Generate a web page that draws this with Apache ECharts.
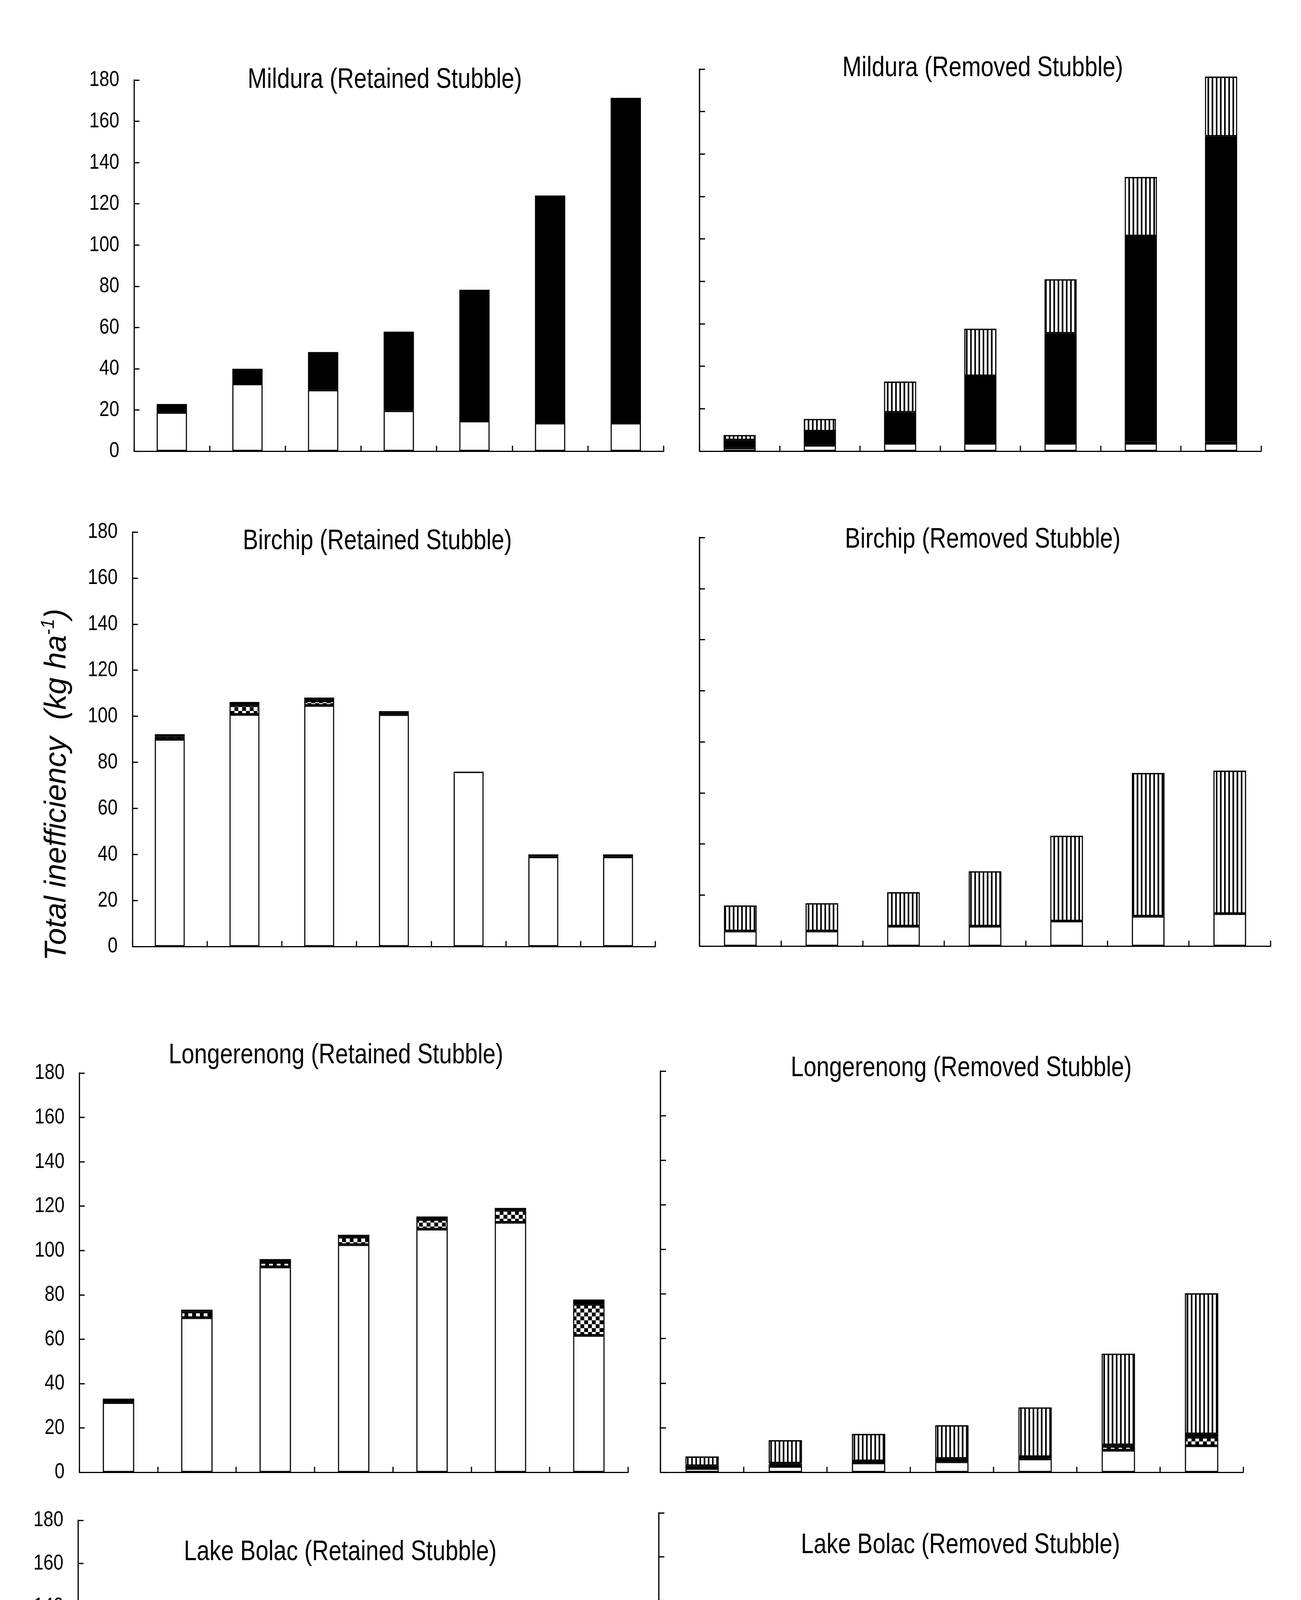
<!DOCTYPE html>
<html><head><meta charset="utf-8">
<script src="https://cdn.jsdelivr.net/npm/echarts@6/dist/echarts.min.js"></script>
<style>html,body{margin:0;padding:0;background:#fff;overflow:hidden;width:3331px;height:5236px}
#c{width:4062px;height:5236px;transform-origin:0 0}</style>
</head><body><div id="c"></div><script>
// ---------------- data ----------------
const categories = ['0', '25', '50', '75', '100', '150', '200'];
const componentNames = ['Immobilization', 'Denitrification', 'Leaching', 'N in Stubbles'];

const mildRetImm = [18.8, 32.6, 29.7, 19.6, 14.6, 13.6, 13.6];
const mildRetDen = [0, 0, 0, 0, 0, 1.0, 1.0];
const mildRetLea = [4.1, 7.4, 18.4, 38.4, 63.7, 109.4, 156.8];

const mildRemImm = [1.5, 2.8, 3.7, 3.7, 3.7, 3.7, 3.7];
const mildRemDen = [0, 0, 0, 0, 0, 0.8, 0.8];
const mildRemLea = [3.7, 6.6, 14.6, 31.8, 51.8, 96.9, 143.8];
const mildRemStu = [2.4, 5.8, 14.5, 22.2, 25.5, 27.8, 28.2];

const birRetImm = [90.0, 100.8, 104.7, 100.7, 75.9, 38.9, 38.9];
const birRetDen = [1.2, 3.9, 2.0, 0.8, 0, 0, 0];
const birRetLea = [1.0, 1.5, 1.4, 0.7, 0, 1.1, 1.1];

const birRemImm = [5.9, 5.9, 7.8, 7.8, 9.8, 11.7, 12.7];
const birRemDen = [0, 0, 0, 0, 0, 0, 0];
const birRemLea = [0, 0, 0, 0, 0, 0, 0];
const birRemStu = [10.0, 10.9, 13.3, 21.5, 33.4, 56.1, 56.0];

const lonRetImm = [31.4, 69.7, 92.6, 102.6, 109.6, 112.7, 61.7];
const lonRetDen = [1.0, 2.6, 2.0, 3.4, 4.4, 5.4, 14.0];
const lonRetLea = [0.8, 1.0, 1.5, 1.1, 1.3, 1.1, 2.2];

const lonRemImm = [1.7, 2.6, 4.2, 4.7, 6.0, 9.9, 11.9];
const lonRemDen = [0, 1.0, 0, 0.9, 0, 1.7, 3.8];
const lonRemLea = [1.2, 0.5, 0.9, 0.6, 1.0, 0.7, 1.5];
const lonRemStu = [4.2, 10.3, 12.1, 14.9, 22.1, 40.9, 63.1];

const lakRetImm = [35.4, 69.5, 97.4, 107.4, 112.4, 121.7, 87.4];
const lakRetDen = [1.2, 2.5, 3.3, 4.5, 5.3, 8.0, 20.0];
const lakRetLea = [1.3, 2.1, 2.3, 3.3, 3.3, 5.4, 22.7];

const lakRemImm = [2.9, 2.9, 2.9, 3.8, 5.7, 7.5, 16.0];
const lakRemDen = [0, 0, 0, 1.3, 2.0, 4.4, 7.3];
const lakRemLea = [2.4, 2.4, 2.4, 1.0, 1.6, 1.1, 6.0];
const lakRemStu = [4.7, 10.5, 14.4, 17.7, 20.7, 29.8, 61.1];

// ---------------- rendering ----------------
// The chart is drawn on a wider canvas and compressed horizontally so that
// Liberation Sans renders with Arial-Narrow-like proportions.
const PAGE_W = 3331, CANVAS_W = 4062;
const SX = PAGE_W / CANVAS_W;
const X = v => v / SX;
document.getElementById('c').style.transform = 'scaleX(' + SX + ')';

const FONT = '"Liberation Sans", Arial, sans-serif';

function checker(cw, ch) {
  const c = document.createElement('canvas');
  c.width = cw * 2; c.height = ch * 2;
  const g = c.getContext('2d');
  g.fillStyle = '#fff'; g.fillRect(0, 0, c.width, c.height);
  g.fillStyle = '#000';
  g.fillRect(0, 0, cw, ch); g.fillRect(cw, ch, cw, ch);
  return c;
}
function stripes(period, lw) {
  const c = document.createElement('canvas');
  c.width = period; c.height = 4;
  const g = c.getContext('2d');
  g.fillStyle = '#fff'; g.fillRect(0, 0, c.width, c.height);
  g.fillStyle = '#000'; g.fillRect(0, 0, lw, c.height);
  return c;
}
const fills = [
  '#ffffff',
  { image: checker(12, 10), repeat: 'repeat' },
  '#000000',
  { image: stripes(13, 5), repeat: 'repeat' }
];

// box: [left, top, width, height] in page pixels; t: title centre
const panels = [
  { title: 'Mildura (Retained Stubble)', box: [343, 205, 1356, 950], max: 180, t: [981, 200], yl: true, xl: false, data: [mildRetImm, mildRetDen, mildRetLea] },
  { title: 'Mildura (Removed Stubble)', box: [1791, 177, 1438, 978], max: 180, t: [2512, 170], yl: false, xl: false, data: [mildRemImm, mildRemDen, mildRemLea, mildRemStu] },
  { title: 'Birchip (Retained Stubble)', box: [339, 1362, 1339, 1061], max: 180, t: [962, 1381], yl: true, xl: false, data: [birRetImm, birRetDen, birRetLea] },
  { title: 'Birchip (Removed Stubble)', box: [1791, 1376, 1462, 1046], max: 160, t: [2512, 1377], yl: false, xl: false, data: [birRemImm, birRemDen, birRemLea, birRemStu] },
  { title: 'Longerenong (Retained Stubble)', box: [203, 2747, 1405, 1022], max: 180, t: [856, 2697], yl: true, xl: false, data: [lonRetImm, lonRetDen, lonRetLea] },
  { title: 'Longerenong (Removed Stubble)', box: [1691, 2742, 1492, 1027], max: 180, t: [2457, 2730], yl: false, xl: false, data: [lonRemImm, lonRemDen, lonRemLea, lonRemStu] },
  { title: 'Lake Bolac (Retained Stubble)', box: [200, 3892, 1413, 992], max: 180, t: [867, 3969], yl: true, xl: true, data: [lakRetImm, lakRetDen, lakRetLea] },
  { title: 'Lake Bolac (Removed Stubble)', box: [1687, 3873, 1512, 1011], max: 180, t: [2455, 3951], yl: false, xl: true, data: [lakRemImm, lakRemDen, lakRemLea, lakRemStu] }
];

const xTick = { show: true, inside: true, length: 14, lineStyle: { color: '#000', width: 3.6 } };
const yTick = { show: true, inside: true, length: 17, lineStyle: { color: '#000', width: 3.2 } };
const nameRich = {
  a: { fontFamily: FONT, fontSize: 66, color: '#000', lineHeight: 78 },
  s: { fontFamily: FONT, fontSize: 40, color: '#000', verticalAlign: 'top', lineHeight: 78 }
};

const grid = [], xAxis = [], yAxis = [], series = [], title = [];
panels.forEach((p, i) => {
  grid.push({ left: X(p.box[0]), top: p.box[1], width: X(p.box[2]), height: p.box[3], containLabel: false });
  title.push({
    text: p.title, left: X(p.t[0]), top: p.t[1], textAlign: 'center', textVerticalAlign: 'middle',
    textStyle: { fontFamily: FONT, fontSize: 72, fontWeight: 'normal', color: '#000' }
  });
  xAxis.push({
    type: 'category', gridIndex: i, data: categories, boundaryGap: true,
    axisLine: { lineStyle: { color: '#000', width: 3.2 } }, axisTick: xTick,
    axisLabel: { show: p.xl, margin: 45, fontFamily: FONT, fontSize: 59, color: '#000' },
    name: p.xl ? '{a|Nitrogen fertilizer rates (kg ha}{s|-1}{a|)}' : '',
    nameLocation: 'middle', nameGap: 118,
    nameTextStyle: { rich: nameRich, padding: i === 7 ? [0, 90, 0, 0] : 0 },
    splitLine: { show: false }
  });
  yAxis.push({
    type: 'value', gridIndex: i, min: 0, max: p.max, interval: 20,
    axisLine: { show: true, lineStyle: { color: '#000', width: 3.8 } }, axisTick: yTick,
    axisLabel: { show: p.yl, margin: 46, fontFamily: FONT, fontSize: 56, color: '#000' },
    splitLine: { show: false }
  });
  p.data.forEach((arr, k) => {
    series.push({
      type: 'bar', name: componentNames[k], xAxisIndex: i, yAxisIndex: i, stack: 'p' + i,
      barWidth: '40%',
      data: arr.map(v => (v === 0 ? '-' : v)),
      itemStyle: { color: fills[k], borderColor: '#000', borderWidth: 3.4 },
      emphasis: { disabled: true },
      animation: false
    });
  });
});

const legendText = { fontFamily: FONT, fontSize: 66, color: '#000', padding: [0, 0, 0, 12] };
const option = {
  backgroundColor: '#fff',
  animation: false,
  title: title,
  grid: grid, xAxis: xAxis, yAxis: yAxis, series: series,
  legend: [
    { data: componentNames.slice(0, 3), left: X(257), top: 5126, icon: 'rect', itemWidth: 35, itemHeight: 37, itemGap: 88,
      selectedMode: false, textStyle: legendText, itemStyle: { borderColor: '#000', borderWidth: 3.4 } },
    { data: componentNames, left: X(1706), top: 5119, icon: 'rect', itemWidth: 35, itemHeight: 37, itemGap: 36,
      selectedMode: false, textStyle: legendText, itemStyle: { borderColor: '#000', borderWidth: 3.4 } }
  ],
  graphic: [{
    type: 'text', x: X(146), y: 2009, rotation: Math.PI / 2, scaleY: 1 / SX,
    style: {
      text: '{a|Total inefficiency  (kg ha}{s|-1}{a|)}',
      align: 'center', verticalAlign: 'middle',
      rich: {
        a: { fontFamily: FONT, fontStyle: 'italic', fontSize: 78, fill: '#000', lineHeight: 90 },
        s: { fontFamily: FONT, fontStyle: 'italic', fontSize: 47, fill: '#000', verticalAlign: 'top', lineHeight: 90 }
      }
    }
  }]
};
const chart = echarts.init(document.getElementById('c'), null, { renderer: 'canvas', width: CANVAS_W, height: 5236 });
chart.setOption(option);
</script></body></html>
